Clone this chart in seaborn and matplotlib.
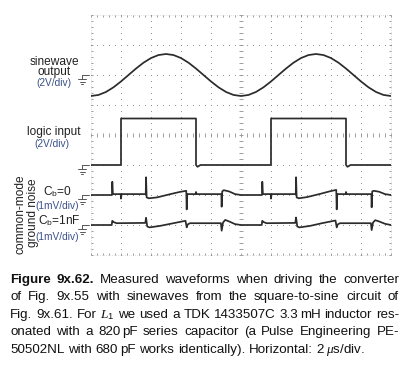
import numpy as np
import pandas as pd
import matplotlib
matplotlib.use("Agg")
import matplotlib.pyplot as plt
import seaborn as sns
from matplotlib.lines import Line2D

# ---------------- data ----------------
# horizontal: 2 us/div, 10 divisions -> 0..20 us
# sinewave output (V), 2 V/div, ground at +2 div
sine_t = [0.0, 0.5, 1.0, 1.5, 2.0, 2.5, 3.0, 3.5, 4.0, 4.5, 5.0, 5.5, 6.0, 6.5, 7.0,
          7.5, 8.0, 8.5, 9.0, 9.5, 10.0, 10.5, 11.0, 11.5, 12.0, 12.5, 13.0, 13.5,
          14.0, 14.5, 15.0, 15.5, 16.0, 16.5, 17.0, 17.5, 18.0, 18.5, 19.0, 19.5, 20.0]
sine_v = [-1.40, -1.33, -1.13, -0.82, -0.43, 0.00, 0.43, 0.82, 1.13, 1.33, 1.40,
          1.33, 1.13, 0.82, 0.43, 0.00, -0.43, -0.82, -1.13, -1.33, -1.40,
          -1.33, -1.13, -0.82, -0.43, 0.00, 0.43, 0.82, 1.13, 1.33, 1.40,
          1.33, 1.13, 0.82, 0.43, 0.00, -0.43, -0.82, -1.13, -1.33, -1.40]

# logic input (V), 2 V/div, ground at -1 div
logic_t = [0.0, 2.0, 2.0, 7.0, 7.0, 7.1, 7.3, 12.0, 12.0, 17.0, 17.0, 17.1, 17.3, 20.0]
logic_v = [0.0, 0.0, 3.1, 3.1, 0.0, -0.12, 0.0, 0.0, 3.1, 3.1, 0.0, -0.12, 0.0, 0.0]

# ground noise, Cb = 0 (mV), 1 mV/div, ground at -2 div
cb0_t = [0.00, 1.40, 1.42, 1.46, 1.98, 2.00, 2.04, 3.65, 3.67, 3.71, 3.85, 4.40,
         5.30, 5.90, 6.35, 6.38, 6.42, 6.98, 7.00, 7.04, 8.69, 8.71, 8.75, 8.85,
         9.20, 9.60, 10.00,
         11.40, 11.42, 11.46, 11.98, 12.00, 12.04, 13.65, 13.67, 13.71, 13.85, 14.40,
         15.30, 15.90, 16.35, 16.38, 16.42, 16.98, 17.00, 17.04, 18.69, 18.71, 18.75,
         18.85, 19.20, 19.60, 20.00]
cb0_mv = [0.00, 0.00, 0.44, 0.03, 0.03, -0.12, 0.03, 0.03, 0.59, -0.08, -0.11, -0.08,
          0.03, 0.10, 0.14, -0.48, 0.03, 0.03, 0.10, 0.03, 0.03, -0.39, 0.12, 0.16,
          0.12, 0.03, 0.00,
          0.00, 0.44, 0.03, 0.03, -0.12, 0.03, 0.03, 0.59, -0.08, -0.11, -0.07,
          0.04, 0.12, 0.17, -0.48, 0.03, 0.03, 0.10, 0.03, 0.03, -0.41, 0.12, 0.14,
          0.11, 0.03, 0.00]

# ground noise, Cb = 1 nF (mV), 1 mV/div, ground at -3 div
cb1_t = [0.00, 1.38, 1.42, 1.50, 1.70, 3.62, 3.67, 3.75, 3.90, 4.60, 5.40, 6.30,
         6.38, 6.45, 6.60, 8.66, 8.71, 8.80, 8.95, 9.20, 9.60, 10.00,
         11.38, 11.42, 11.50, 11.70, 13.62, 13.67, 13.75, 13.90, 14.60, 15.40, 16.30,
         16.38, 16.45, 16.60, 18.66, 18.71, 18.80, 18.95, 19.20, 19.60, 20.00]
cb1_mv = [0.00, 0.00, 0.14, 0.10, 0.06, 0.07, 0.24, -0.05, -0.08, -0.03, 0.05, 0.14,
          -0.08, 0.02, 0.06, 0.06, -0.19, 0.08, 0.17, 0.12, 0.03, 0.00,
          0.00, 0.14, 0.10, 0.06, 0.07, 0.25, -0.05, -0.08, -0.03, 0.06, 0.15,
          -0.08, 0.02, 0.06, 0.06, -0.17, 0.08, 0.16, 0.12, 0.04, 0.00]

channel_names = ["sinewave\noutput", "logic input", "C$_{\\mathrm{b}}$=0", "C$_{\\mathrm{b}}$=1nF"]
channel_units = ["(2V/div)", "(2V/div)", "(1mV/div)", "(1mV/div)"]

caption_lines = [
    ["Figure", "9x.62.", "Measured", "waveforms", "when", "driving", "the", "converter"],
    ["of", "Fig.", "9x.55", "with", "sinewaves", "from", "the", "square-to-sine", "circuit", "of"],
    ["Fig.", "9x.61.", "For", "$L_1$", "we", "used", "a", "TDK", "1433507C", "3.3~mH",
     "inductor", "res-"],
    ["onated", "with", "a", "820~pF", "series", "capacitor", "(a", "Pulse", "Engineering", "PE-"],
    ["50502NL", "with", "680~pF", "works", "identically).", "Horizontal:", "2~$\\mu$s/div."],
]

# ---------------- style ----------------
sns.set_theme(style="white")
plt.rcParams["font.family"] = ["Liberation Sans", "DejaVu Sans"]
plt.rcParams["mathtext.fontset"] = "custom"
plt.rcParams["mathtext.rm"] = "Liberation Sans"
plt.rcParams["mathtext.it"] = "Liberation Serif:italic"
plt.rcParams["mathtext.bf"] = "Liberation Sans:bold"

W, H = 411, 366
TRACE = "#2b2b2b"
GRID = "#8e8e8e"
UNIT = "#3a5088"

fig = plt.figure(figsize=(W / 100, H / 100), dpi=100)
fig.patch.set_facecolor("white")
ax = fig.add_axes([91 / W, 1 - 255 / H, 300 / W, 240 / H])
ax.set_xlim(0, 20)
ax.set_ylim(-4, 4)
ax.axis("off")

# ---------------- graticule ----------------
yy = np.arange(-4, 4.001, 0.2)
xx = np.arange(0, 20.001, 0.4)
for xv in range(2, 20, 2):
    if xv == 10:
        continue
    ax.plot(np.full_like(yy, xv), yy, ls="none", marker="s", ms=0.7, mec="none", mfc=GRID)
for yv in range(-3, 4):
    if yv == 0:
        continue
    ax.plot(xx, np.full_like(xx, yv), ls="none", marker="s", ms=0.7, mec="none", mfc=GRID)
# centre cross with minor ticks
ax.plot(np.full_like(yy, 10), yy, ls="none", marker="_", ms=2.6, mew=0.6, color=GRID)
ax.plot(xx, np.zeros_like(xx), ls="none", marker="|", ms=2.6, mew=0.6, color=GRID)
# border
for (xa, ya) in [([0, 20], [4, 4]), ([0, 20], [-4, -4]), ([0, 0], [-4, 4]), ([20, 20], [-4, 4])]:
    ax.plot(xa, ya, color="#c4c4c4", lw=0.5, ls=(0, (1, 2)), clip_on=False)
ax.plot(xx, np.full_like(xx, 3.96), ls="none", marker="|", ms=1.8, mew=0.6, color=GRID, clip_on=False)
ax.plot(xx, np.full_like(xx, -3.96), ls="none", marker="|", ms=1.8, mew=0.6, color=GRID, clip_on=False)
ax.plot(np.full_like(yy, 0.08), yy, ls="none", marker="_", ms=1.8, mew=0.6, color=GRID, clip_on=False)
ax.plot(np.full_like(yy, 19.92), yy, ls="none", marker="_", ms=1.8, mew=0.6, color=GRID, clip_on=False)

# ---------------- traces ----------------
traces = [
    (sine_t, 2 + np.array(sine_v) / 2.0),
    (logic_t, -1 + np.array(logic_v) / 2.0),
    (cb0_t, -2 + np.array(cb0_mv) / 1.0),
    (cb1_t, -3 + np.array(cb1_mv) / 1.0),
]
for t, y in traces:
    df = pd.DataFrame({"t": t, "y": y})
    sns.lineplot(data=df, x="t", y="y", ax=ax, color=TRACE, lw=1.25,
                 estimator=None, sort=False, legend=False)
ax.set_xlim(0, 20)
ax.set_ylim(-4, 4)
ax.axis("off")

# ---------------- left labels ----------------
def fpos(x, y):
    return x / W, 1 - y / H

def ground(yg):
    segs = [((89, yg), (82, yg)), ((82, yg), (82, yg + 4)),
            ((78, yg + 4), (86, yg + 4)), ((79.5, yg + 6.5), (84.5, yg + 6.5)),
            ((81, yg + 9), (83, yg + 9))]
    for (x0, y0), (x1, y1) in segs:
        p0, p1 = fpos(x0, y0), fpos(x1, y1)
        fig.add_artist(Line2D([p0[0], p1[0]], [p0[1], p1[1]], transform=fig.transFigure,
                              color="#555555", lw=0.7))

for yg in (75, 165, 195, 225):
    ground(yg)

LFS = 8.6
UFS = 7.3
fig.text(*fpos(54, 67), channel_names[0], ha="center", va="center", multialignment="center",
         linespacing=0.72, fontsize=LFS, color="#222222")
fig.text(*fpos(53.5, 85.5), channel_units[0], ha="center", va="baseline", fontsize=UFS, color=UNIT)
fig.text(*fpos(54, 135), channel_names[1], ha="center", va="baseline", fontsize=LFS, color="#222222")
fig.text(*fpos(52, 146.5), channel_units[1], ha="center", va="baseline", fontsize=UFS, color=UNIT)
fig.text(*fpos(57, 195.5), channel_names[2], ha="center", va="baseline", fontsize=LFS, color="#222222")
fig.text(*fpos(57.5, 209), channel_units[2], ha="center", va="baseline", fontsize=UFS, color=UNIT)
fig.text(*fpos(59.5, 224.5), channel_names[3], ha="center", va="baseline", fontsize=LFS, color="#222222")
fig.text(*fpos(57.5, 240), channel_units[3], ha="center", va="baseline", fontsize=UFS, color=UNIT)
fig.text(*fpos(21, 214), "common-mode", rotation=90, ha="center", va="center", fontsize=LFS, color="#222222")
fig.text(*fpos(33, 213), "ground noise", rotation=90, ha="center", va="center", fontsize=LFS, color="#222222")

# ---------------- caption (justified) ----------------
CAP_FS = 9.6
CAP_L, CAP_R = 10, 399
THIN = 2.0
baselines = [282.7, 300.2, 317.7, 335.2, 352.7]
renderer = fig.canvas.get_renderer()

def measure(s, weight):
    t = fig.text(0, 0, s, fontsize=CAP_FS, fontweight=weight)
    w = t.get_window_extent(renderer).width
    t.remove()
    return w

space_w = measure("a a", "normal") - measure("aa", "normal")

for li, (words, yb) in enumerate(zip(caption_lines, baselines)):
    info = []
    for wi, w in enumerate(words):
        weight = "bold" if (li == 0 and wi < 2) else "normal"
        pieces = w.split("~")
        widths = [measure(p, weight) for p in pieces]
        total = sum(widths) + THIN * (len(pieces) - 1)
        info.append((pieces, widths, total, weight))
    natural = sum(i[2] for i in info)
    if li < len(caption_lines) - 1:
        gap = (CAP_R - CAP_L - natural) / (len(words) - 1)
    else:
        gap = space_w
    x = CAP_L
    for pieces, widths, total, weight in info:
        px = x
        for p, pw in zip(pieces, widths):
            fig.text(*fpos(px, yb), p, ha="left", va="baseline", fontsize=CAP_FS,
                     fontweight=weight, color="#111111")
            px += pw + THIN
        x += total + gap

fig.savefig("out.png", dpi=100, facecolor="white")
